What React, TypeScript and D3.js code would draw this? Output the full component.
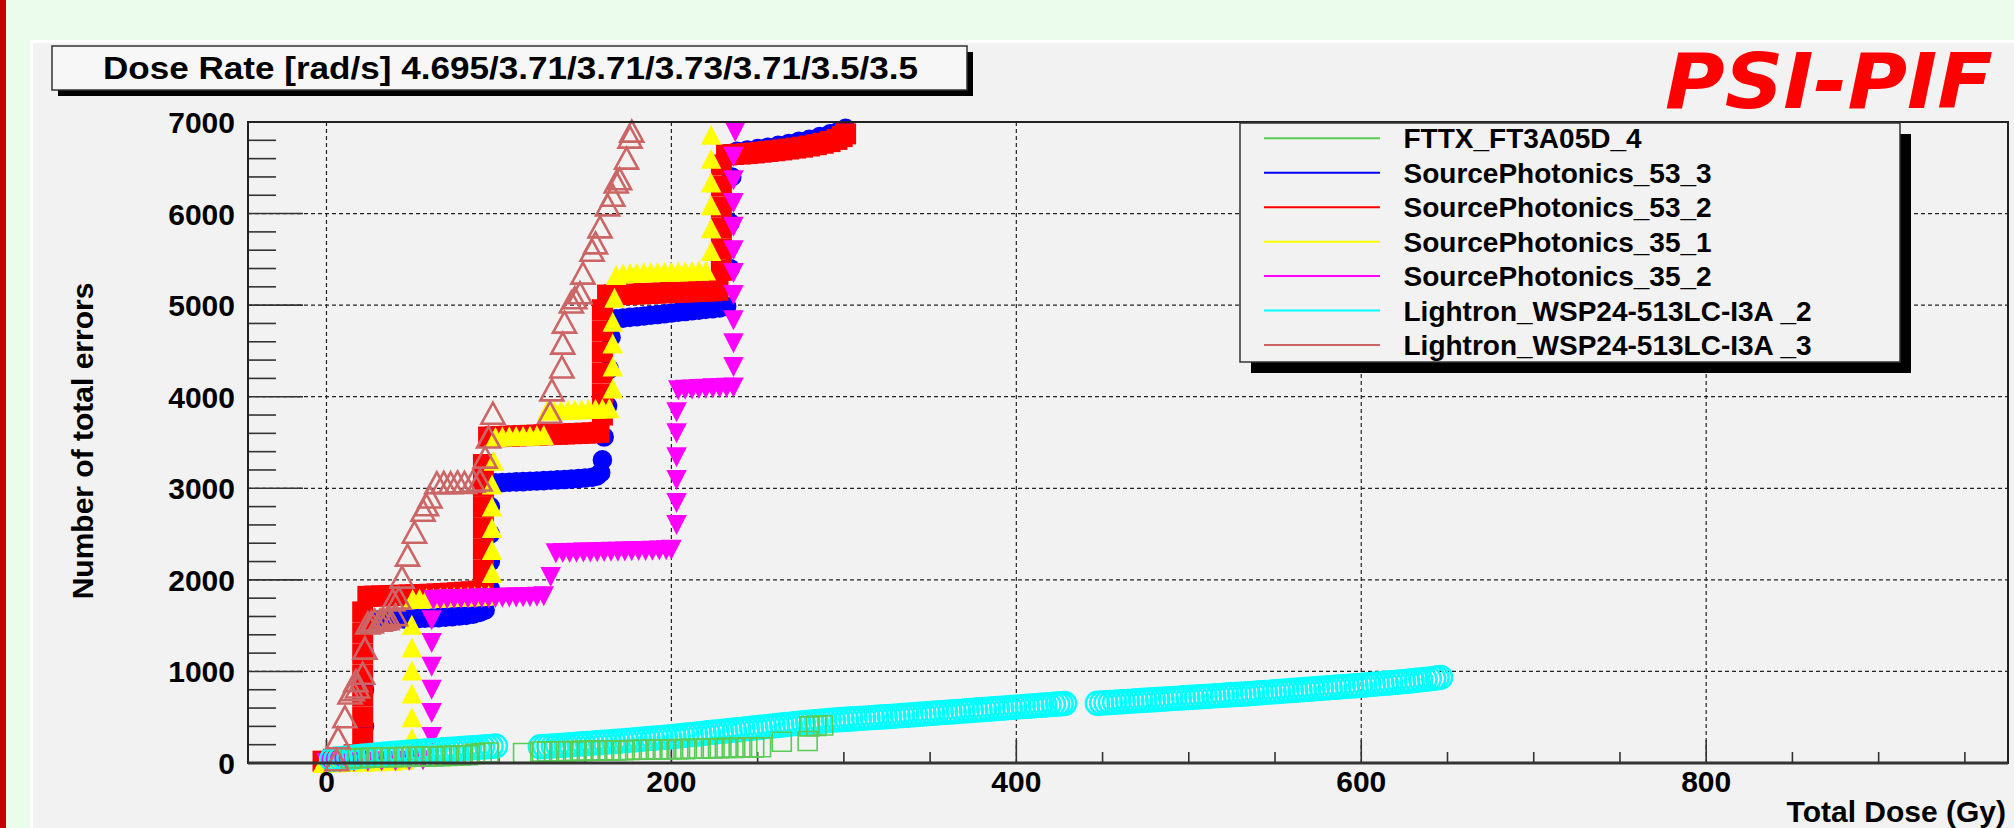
import React from 'react';
import * as d3 from 'd3';

type Pt = [number, number];

// Total dose (Gy) vs number of total errors
const fttx: Pt[] = [
  [14, 50], [18, 55], [22, 55], [26, 60], [30, 60], [34, 62], [38, 62], [42, 65], [46, 65], [50, 68],
  [54, 70], [58, 70], [62, 72], [66, 75], [70, 78], [74, 80], [78, 82], [82, 85], [86, 100], [90, 110],
  [94, 115], [114, 110], [124, 125], [128, 125], [132, 128], [136, 128], [140, 130], [144, 130], [148, 132],
  [152, 132], [156, 135], [160, 135], [164, 135], [168, 138], [172, 140], [176, 142], [180, 145], [184, 145],
  [188, 148], [192, 148], [196, 150], [200, 150], [204, 152], [208, 152], [212, 155], [216, 155], [220, 158],
  [224, 160], [228, 162], [232, 165], [236, 165], [240, 168], [244, 170], [248, 170], [252, 172], [264, 232],
  [279, 240], [280, 400], [284, 405], [288, 410],
];

const sp53_3: Pt[] = [
  [0, 0], [5, 10], [12, 30], [18, 80], [22, 400], [22, 800], [22, 1200],
  [25, 1560], [29, 1562], [33, 1565], [37, 1568], [41, 1570], [45, 1572], [49, 1575], [53, 1578], [57, 1580],
  [61, 1583], [65, 1588], [69, 1592], [73, 1598], [77, 1605], [81, 1612], [85, 1625], [89, 1645], [92, 1670],
  [95, 1900], [95, 2200], [95, 2500], [95, 2800],
  [98, 3060], [102, 3063], [106, 3066], [110, 3070], [114, 3073], [118, 3077], [122, 3080], [126, 3084],
  [130, 3088], [134, 3092], [138, 3096], [142, 3100], [146, 3106], [150, 3112], [154, 3120], [157, 3135],
  [159, 3170], [160, 3310], [161, 3560],
  [163, 3900], [164, 4300], [165, 4650],
  [168, 4850], [172, 4858], [176, 4866], [180, 4874], [184, 4882], [188, 4890], [192, 4898], [196, 4906],
  [200, 4914], [204, 4922], [208, 4930], [212, 4938], [216, 4946], [220, 4954], [224, 4962], [228, 4970],
  [232, 4985], [234, 5400], [234, 5900], [235, 6400],
  [238, 6680], [244, 6695], [250, 6710], [256, 6725], [262, 6745], [268, 6765], [274, 6790], [280, 6810],
  [286, 6840], [292, 6870], [297, 6900], [301, 6930],
];

const sp53_2: Pt[] = [
  [-2, 20], [4, 40], [10, 60], [16, 90],
  [21, 270], [21, 500], [21, 730], [21, 960], [21, 1190], [21, 1420], [21, 1650],
  [24, 1820], [28, 1823], [32, 1825], [36, 1827], [40, 1830], [44, 1833], [48, 1835], [52, 1837], [56, 1840],
  [60, 1843], [64, 1847], [68, 1851], [72, 1855], [76, 1860], [80, 1865], [84, 1870], [88, 1877], [91, 1885],
  [91, 2110], [91, 2340], [91, 2570], [91, 2800], [91, 3030], [91, 3260],
  [94, 3560], [98, 3563], [102, 3566], [106, 3569], [110, 3572], [114, 3575], [118, 3578], [122, 3581],
  [126, 3584], [130, 3587], [134, 3590], [138, 3593], [142, 3596], [146, 3599], [150, 3602], [154, 3605],
  [158, 3610],
  [160, 3800], [160, 4030], [160, 4260], [160, 4490], [160, 4720], [160, 4950],
  [163, 5110], [167, 5113], [171, 5116], [175, 5119], [179, 5122], [183, 5125], [187, 5128], [191, 5131],
  [195, 5134], [199, 5137], [203, 5140], [207, 5143], [211, 5146], [215, 5149], [219, 5152], [223, 5156],
  [227, 5162],
  [229, 5380], [229, 5610], [229, 5840], [229, 6070], [229, 6300], [229, 6530],
  [232, 6640], [236, 6645], [240, 6650], [244, 6655], [248, 6662], [252, 6670], [256, 6678], [260, 6686],
  [264, 6695], [268, 6705], [272, 6715], [276, 6725], [280, 6738], [284, 6752], [288, 6768], [292, 6786],
  [296, 6810], [299, 6840], [301, 6870],
];

const sp35_1: Pt[] = [
  [-2, 0], [6, 5], [14, 10], [22, 15], [30, 20], [38, 25], [45, 35],
  [49.5, 270], [49.5, 500], [49.5, 760], [49.5, 1010], [49.5, 1260], [49.5, 1510],
  [50, 1790], [54, 1795], [58, 1800], [62, 1803], [66, 1806], [70, 1809], [74, 1812], [78, 1815], [82, 1818],
  [86, 1821], [90, 1825], [94, 1830],
  [96, 2075], [96, 2325], [96, 2565], [96, 2800], [96, 3040], [97, 3300],
  [98, 3560], [102, 3565], [106, 3568], [110, 3570], [114, 3572], [118, 3575], [122, 3578], [126, 3582],
  [128, 3850], [132, 3852], [136, 3855], [140, 3858], [144, 3860], [148, 3862], [152, 3865], [156, 3868],
  [160, 3870], [164, 3875],
  [166, 4090], [166, 4330], [166, 4580], [166, 4820], [167, 5080],
  [168, 5330], [172, 5345], [176, 5350], [180, 5355], [184, 5358], [188, 5360], [192, 5362], [196, 5364],
  [200, 5366], [204, 5368], [208, 5370], [212, 5372], [216, 5375], [220, 5378],
  [223, 5590], [223, 5840], [223, 6090], [223, 6340], [223, 6600], [223, 6860],
];

const sp35_2: Pt[] = [
  [0, 0], [8, 5], [16, 10], [24, 15], [32, 20], [40, 20], [48, 25], [56, 30],
  [61, 285], [61, 545], [61, 800], [61, 1050], [61, 1310], [61, 1560],
  [62, 1780], [66, 1785], [70, 1788], [74, 1790], [78, 1792], [82, 1794], [86, 1796], [90, 1798], [94, 1800],
  [98, 1802], [102, 1804], [106, 1806], [110, 1808], [114, 1810], [118, 1812], [122, 1815], [126, 1820],
  [130, 2030],
  [133, 2290], [137, 2292], [141, 2294], [145, 2296], [149, 2298], [153, 2300], [157, 2302], [161, 2304],
  [165, 2306], [169, 2308], [173, 2310], [177, 2312], [181, 2314], [185, 2316], [189, 2318], [193, 2320],
  [197, 2324], [200, 2330],
  [203, 2600], [203, 2840], [203, 3090], [203, 3340], [203, 3600], [203, 3830],
  [204, 4070], [208, 4075], [212, 4080], [216, 4085], [220, 4088], [224, 4092], [228, 4095], [232, 4098],
  [236, 4100],
  [236, 4325], [236, 4585], [236, 4835], [236, 5110], [236, 5350], [236, 5600], [236, 5855], [236, 6115],
  [236, 6365], [236, 6620], [237, 6890],
];

const lightron2: Pt[] = [
  [3, 40], [5.5, 44], [8, 48], [10.5, 53], [13, 58], [15.5, 63], [18, 68], [20.5, 73], [23, 78], [25.5, 82],
  [28, 86], [30.5, 90], [33, 95], [35.5, 99], [38, 103], [40.5, 107], [43, 111], [45.5, 114], [48, 118],
  [50.5, 121], [53, 125], [55.5, 128], [58, 131], [60.5, 135], [63, 138], [65.5, 141], [68, 145], [70.5, 148],
  [73, 151], [75.5, 154], [78, 158], [80.5, 161], [83, 164], [85.5, 168], [88, 171], [90.5, 174], [93, 178],
  [95.5, 181], [98, 185],
  [124, 178], [126.5, 181], [129, 184], [131.5, 187], [134, 190], [136.5, 193], [139, 196], [141.5, 200],
  [144, 203], [146.5, 207], [149, 210], [151.5, 214], [154, 217], [156.5, 221], [159, 224], [161.5, 228],
  [164, 231], [166.5, 235], [169, 238], [171.5, 242], [174, 246], [176.5, 250], [179, 254], [181.5, 258],
  [184, 262], [186.5, 266], [189, 270], [191.5, 274], [194, 277], [196.5, 281], [199, 285], [201.5, 290],
  [204, 295], [206.5, 300], [209, 305], [211.5, 310], [214, 315], [216.5, 320], [219, 325], [221.5, 330],
  [224, 335], [226.5, 340], [229, 345], [231.5, 350], [234, 355], [236.5, 360], [239, 365], [241.5, 370],
  [244, 375], [246.5, 380], [249, 385], [251.5, 390], [254, 395], [256.5, 400], [259, 405], [261.5, 410],
  [264, 415], [266.5, 420], [269, 425], [271.5, 430], [274, 435], [276.5, 440], [279, 444], [281.5, 448],
  [284, 452], [286.5, 456], [289, 460], [291.5, 464], [294, 468], [296.5, 472], [299, 475], [301.5, 478],
  [304, 481], [306.5, 484], [309, 487], [311.5, 490], [314, 493], [316.5, 496], [319, 499], [321.5, 502],
  [324, 505], [326.5, 508], [329, 511], [331.5, 515], [334, 518], [336.5, 522], [339, 525], [341.5, 529],
  [344, 532], [346.5, 536], [349, 539], [351.5, 543], [354, 546], [356.5, 550], [359, 553], [361.5, 557],
  [364, 560], [366.5, 564], [369, 567], [371.5, 571], [374, 574], [376.5, 578], [379, 581], [381.5, 585],
  [384, 588], [386.5, 592], [389, 595], [391.5, 599], [394, 602], [396.5, 606], [399, 609], [401.5, 613],
  [404, 616], [406.5, 620], [409, 623], [411.5, 627], [414, 630], [416.5, 634], [419, 637], [421.5, 641],
  [424, 644], [426, 647], [428, 650],
  [447, 652], [449.5, 655], [452, 658], [454.5, 661], [457, 664], [459.5, 667], [462, 670], [464.5, 673],
  [467, 676], [469.5, 679], [472, 682], [474.5, 685], [477, 688], [479.5, 691], [482, 694], [484.5, 697],
  [487, 700], [489.5, 703], [492, 706], [494.5, 709], [497, 712], [499.5, 715], [502, 718], [504.5, 721],
  [507, 724], [509.5, 727], [512, 730], [514.5, 733], [517, 736], [519.5, 739], [522, 742], [524.5, 745],
  [527, 748], [529.5, 751], [532, 754], [534.5, 757], [537, 760], [539.5, 764], [542, 767], [544.5, 771],
  [547, 774], [549.5, 778], [552, 781], [554.5, 785], [557, 788], [559.5, 792], [562, 795], [564.5, 799],
  [567, 802], [569.5, 806], [572, 809], [574.5, 813], [577, 816], [579.5, 820], [582, 823], [584.5, 827],
  [587, 830], [589.5, 834], [592, 837], [594.5, 841], [597, 844], [599.5, 848], [602, 852], [604.5, 856],
  [607, 860], [609.5, 864], [612, 868], [614.5, 872], [617, 876], [619.5, 880], [622, 884], [624.5, 889],
  [627, 893], [629.5, 898], [632, 903], [634.5, 908], [637, 913], [639.5, 919], [642, 924], [644, 930],
  [646, 935],
];

const lightron3: Pt[] = [
  [6, 35], [6.7, 275], [10.7, 505], [13.6, 765], [15, 800], [18, 830], [17, 900], [21, 980], [22.3, 1255],
  [24, 1530], [26, 1540], [28, 1560], [31, 1560], [33, 1570], [35, 1575], [36, 1600], [40, 1620],
  [38.5, 1780], [42, 1800], [43.8, 2030], [47, 2270], [51, 2520], [56, 2760], [58, 2820], [60, 2905],
  [64, 3060], [68, 3065], [72, 3060], [76, 3070], [80, 3065], [85, 3080], [89, 3090], [92, 3340], [94, 3560],
  [96.5, 3820], [129.6, 3830], [130.7, 4075], [136.5, 4325], [137, 4585], [138, 4815], [142, 5035],
  [144, 5080], [147, 5135], [148.7, 5350], [154, 5600], [156, 5680], [158.6, 5855], [163, 6095], [166, 6200],
  [168, 6345], [170, 6380], [174, 6605], [176, 6835], [177, 6900],
];

const legendNames = [
  'FTTX_FT3A05D_4',
  'SourcePhotonics_53_3',
  'SourcePhotonics_53_2',
  'SourcePhotonics_35_1',
  'SourcePhotonics_35_2',
  'Lightron_WSP24-513LC-I3A _2',
  'Lightron_WSP24-513LC-I3A _3',
];
const seriesColors = ['#59cc55', '#0000ff', '#ff0000', '#ffff00', '#ff00ff', '#00ffff', '#cc6666'];

const xMajorTicks = [0, 200, 400, 600, 800];
const xMinorTicks = d3.range(0, 951, 50);
const yMajorTicks = d3.range(0, 7001, 1000);
const yMinorTicks = d3.range(0, 7001, 200);
const yGridTicks = [1000, 2000, 3000, 4000, 5000, 6000];

const titleText = 'Dose Rate [rad/s] 4.695/3.71/3.71/3.73/3.71/3.5/3.5';

const W = 2014;
const H = 828;
const FONT = '"Liberation Sans", Arial, Helvetica, sans-serif';

const x = d3.scaleLinear().domain([-45.5, 975]).range([248, 2008]);
const y = d3.scaleLinear().domain([0, 7000]).range([763, 122]);

const sq = (s: number) => `M${-s / 2},${-s / 2}h${s}v${s}h${-s}Z`;
const triUp = (w: number, h: number) => `M0,${-h / 2}L${w / 2},${h / 2}L${-w / 2},${h / 2}Z`;
const triDown = (w: number, h: number) => `M0,${h / 2}L${w / 2},${-h / 2}L${-w / 2},${-h / 2}Z`;
const circ = (r: number) => d3.arc()({ innerRadius: 0, outerRadius: r, startAngle: 0, endAngle: 2 * Math.PI } as any) as string;

// drawing order differs from legend order
const drawn = [
  { data: sp53_3, color: seriesColors[1], d: circ(9.8), filled: true },
  { data: sp53_2, color: seriesColors[2], d: sq(21), filled: true },
  { data: sp35_1, color: seriesColors[3], d: triUp(20.5, 20), filled: true },
  { data: sp35_2, color: seriesColors[4], d: triDown(20.5, 20), filled: true },
  { data: lightron2, color: seriesColors[5], d: circ(11.5), filled: false, sw: 2.4 },
  { data: fttx, color: seriesColors[0], d: sq(19), filled: false, sw: 1.6 },
  { data: lightron3, color: seriesColors[6], d: triUp(23, 21), filled: false, sw: 2.6 },
];

export default function App() {
  const [x0, x1] = x.range();
  const [y0, y1] = y.range();
  return (
    <div>
      <style>{'body{margin:0}'}</style>
      <svg width={W} height={H} style={{ display: 'block' }} fontFamily={FONT}>
        {/* canvas */}
        <rect x={0} y={0} width={W} height={H} fill="#ecfcec" />
        <rect x={0} y={0} width={6} height={H} fill="#c40000" />
        <rect x={30} y={40} width={W - 30} height={H - 40} fill="#ffffff" />
        <rect x={33} y={43} width={W - 33} height={H - 43} fill="#f2f2f2" />

        {/* frame */}
        <rect x={x0} y={y1} width={x1 - x0} height={y0 - y1} fill="#f2f2f2" />

        {/* grid */}
        <g stroke="#000" strokeWidth={1.2} strokeDasharray="4 3" opacity={0.85}>
          {xMajorTicks.map((t) => (
            <line key={'gx' + t} x1={x(t)} x2={x(t)} y1={y1} y2={y0} />
          ))}
          {yGridTicks.map((t) => (
            <line key={'gy' + t} x1={x0} x2={x1} y1={y(t)} y2={y(t)} />
          ))}
        </g>

        {/* ticks */}
        <g stroke="#333" strokeWidth={1.6}>
          {yMinorTicks.map((t) => (
            <line key={'yt' + t} x1={x0} x2={x0 + (t % 1000 === 0 ? 55 : 28)} y1={y(t)} y2={y(t)} />
          ))}
          {xMinorTicks.map((t) => (
            <line key={'xt' + t} x1={x(t)} x2={x(t)} y1={y0} y2={y0 - (t % 200 === 0 ? 23 : 11)} />
          ))}
        </g>

        {/* markers */}
        {drawn.map((s, i) => (
          <g key={'s' + i}>
            {s.data.map(([dx, dy], j) => (
              <path
                key={j}
                d={s.d}
                transform={`translate(${x(dx)},${y(dy)})`}
                fill={s.filled ? s.color : 'none'}
                stroke={s.filled ? 'none' : s.color}
                strokeWidth={s.sw || 0}
              />
            ))}
          </g>
        ))}

        <rect x={x0} y={y1} width={x1 - x0} height={y0 - y1} fill="none" stroke="#222" strokeWidth={2} />
        <line x1={x0} x2={x1} y1={y0} y2={y0} stroke="#333" strokeWidth={3} />

        {/* tick labels */}
        <g fontSize={30} fontWeight="bold" fill="#000">
          {yMajorTicks.map((t) => (
            <text key={'yl' + t} x={235} y={y(t) + 11} textAnchor="end">
              {t}
            </text>
          ))}
          {xMajorTicks.map((t) => (
            <text key={'xl' + t} x={x(t)} y={792} textAnchor="middle">
              {t}
            </text>
          ))}
          <text x={2006} y={822} textAnchor="end">Total Dose (Gy)</text>
          <text transform="translate(93,441) rotate(-90)" textAnchor="middle">Number of total errors</text>
        </g>

        {/* title */}
        <rect x={58} y={52} width={915} height={44} fill="#000" />
        <rect x={52} y={46} width={915} height={44} fill="#f7f7f7" stroke="#333" strokeWidth={1.5} />
        <text x={103} y={79} fontSize={31} fontWeight="bold" textLength={815} lengthAdjust="spacingAndGlyphs" fill="#000">
          {titleText}
        </text>

        <text
          x={1665}
          y={108}
          fontSize={77}
          fontWeight="bold"
          fontStyle="italic"
          fontFamily='"DejaVu Sans", Verdana, sans-serif'
          fill="#ff0000"
          textLength={328}
          lengthAdjust="spacingAndGlyphs"
        >
          PSI-PIF
        </text>

        {/* legend */}
        <rect x={1251} y={134} width={660} height={239} fill="#000" />
        <rect x={1240} y={123} width={660} height={239} fill="#f2f2f2" stroke="#333" strokeWidth={1.5} />
        {legendNames.map((n, i) => {
          const cy = 138.3 + i * 34.45;
          return (
            <g key={n}>
              <line x1={1264} x2={1380} y1={cy} y2={cy} stroke={seriesColors[i]} strokeWidth={2} />
              <text x={1403.5} y={cy + 10} fontSize={28} fontWeight="bold" fill="#000">
                {n}
              </text>
            </g>
          );
        })}
      </svg>
    </div>
  );
}
